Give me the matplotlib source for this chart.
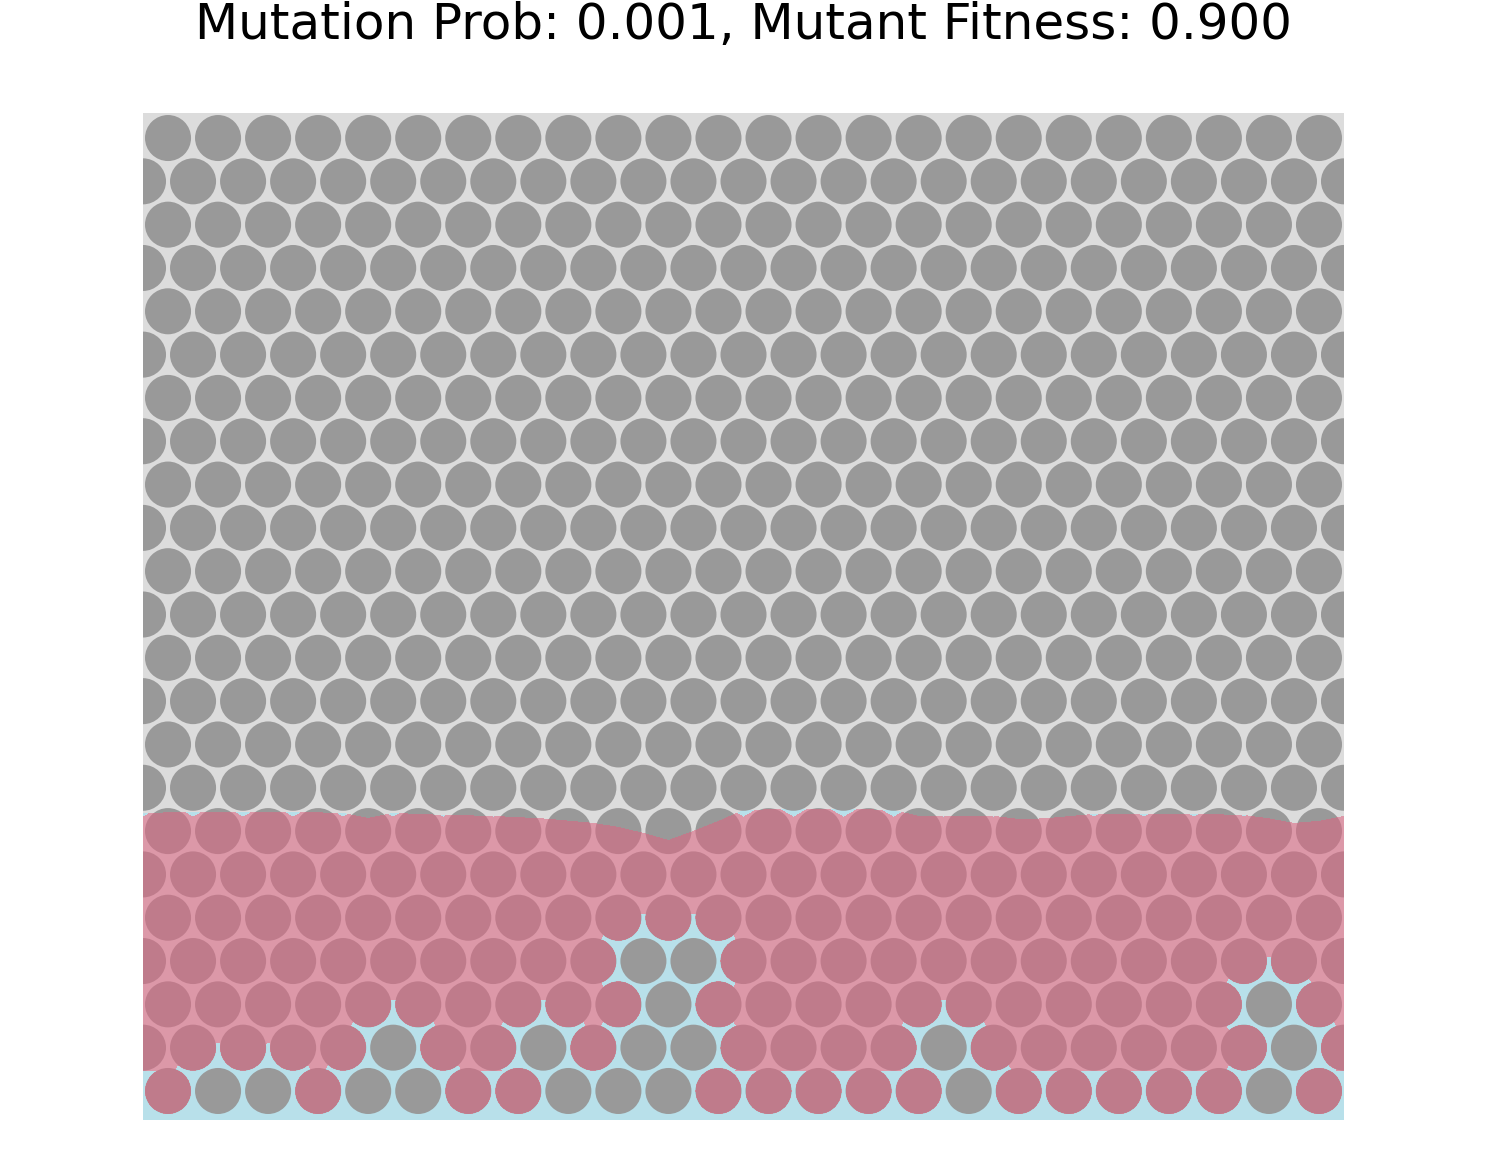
import numpy as np
import matplotlib
matplotlib.use("Agg")
import matplotlib.pyplot as plt
from matplotlib.patches import Circle
from matplotlib.collections import PatchCollection

# ---- DATA ----
TITLE = "Mutation Prob: 0.001, Mutant Fitness: 0.900"
N_ROWS = 23          # hex lattice rows, counted from the bottom
N_COLS = 24          # width of the lattice (cells per even row)

# cell state per row: 1 = mutant, 0 = wild type
# even rows: 24 cells at x = 0.5 .. 23.5, odd rows: 25 cells at x = 0 .. 24
ROW0 = [1, 0, 0, 1, 0, 0, 1, 1, 0, 0, 0, 1, 1, 1, 1, 1, 0, 1, 1, 1, 1, 1, 0, 1]
ROW1 = [1, 1, 1, 1, 1, 0, 1, 1, 0, 1, 0, 0, 1, 1, 1, 1, 0, 1, 1, 1, 1, 1, 1, 0, 1]
ROW2 = [1, 1, 1, 1, 1, 1, 1, 1, 1, 1, 0, 1, 1, 1, 1, 1, 1, 1, 1, 1, 1, 1, 0, 1]
ROW3 = [1, 1, 1, 1, 1, 1, 1, 1, 1, 1, 0, 0, 1, 1, 1, 1, 1, 1, 1, 1, 1, 1, 1, 1, 1]
ROW4 = [1] * 24
ROW5 = [1] * 25
ROW6 = [1] * 24
MUTANT_ROWS = [ROW0, ROW1, ROW2, ROW3, ROW4, ROW5, ROW6]

# upper edge of the mutant (pink) field
FRONT_X = [0, 1, 2, 3, 4, 4.5, 5, 5.5, 6, 7, 8, 9, 9.5, 10, 10.5, 11, 11.5, 12, 13, 14,
           15, 15.5, 16, 17, 17.5, 18, 19, 20, 21, 22, 22.5, 23, 23.5, 24]
FRONT_Y = [5.56, 5.58, 5.58, 5.58, 5.56, 5.46, 5.56, 5.54, 5.52, 5.50, 5.45, 5.36, 5.28,
           5.16, 5.02, 5.20, 5.40, 5.62, 5.64, 5.64, 5.62, 5.50, 5.50, 5.50, 5.44, 5.45,
           5.54, 5.54, 5.54, 5.52, 5.45, 5.36, 5.40, 5.50]

# ---- STYLE ----
R = 0.46
H = np.sqrt(3) / 2
Y_CUT = 0.4          # gaps below this stay blue
D_GAP = 0.95         # gaps this close to a wild-type cell stay blue
BG_GRAY = np.array([220, 220, 220]) / 255
BG_BLUE = np.array([184, 224, 234]) / 255
CELL_GRAY = "#999999"
PINK = np.array([220, 101, 129]) / 255
PINK_ALPHA = 0.57
YLO, YHI = -0.58, 19.553

# state lookup table (rows above the mutant block are wild type)
states = np.zeros((N_ROWS, N_COLS + 1), dtype=int)
for r, row in enumerate(MUTANT_ROWS):
    states[r, :len(row)] = row

# ---- FIELD IMAGES ----
nx, ny = 1201, 1007
xs = (np.arange(nx) + 0.5) / nx * N_COLS
ys = YLO + (np.arange(ny) + 0.5) / ny * (YHI - YLO)
XX, YY = np.meshgrid(xs, ys)

best_d = np.full(XX.shape, np.inf)
best_s = np.zeros(XX.shape, dtype=int)
r0 = np.clip(np.rint(YY / H).astype(int), 0, N_ROWS - 1)
for dr in (-1, 0, 1):
    r = np.clip(r0 + dr, 0, N_ROWS - 1)
    off = np.where(r % 2 == 0, 0.5, 0.0)
    ncol = np.where(r % 2 == 0, N_COLS, N_COLS + 1)
    k = np.clip(np.rint(XX - off).astype(int), 0, ncol - 1)
    d = (XX - (k + off)) ** 2 + (YY - r * H) ** 2
    upd = d < best_d
    best_d[upd] = d[upd]
    best_s[upd] = states[r, k][upd]

# distance to the closest wild-type cell inside the mutant block
gray_d = np.full(XX.shape, np.inf)
for r, row in enumerate(MUTANT_ROWS):
    off = 0.5 if r % 2 == 0 else 0.0
    for k, s in enumerate(row):
        if s == 0:
            gray_d = np.minimum(gray_d, (XX - (k + off)) ** 2 + (YY - r * H) ** 2)

front = np.interp(xs, FRONT_X, FRONT_Y)[None, :]
below = YY < front
in_cell = best_d <= R ** 2
gap_pink = (YY > Y_CUT) & (gray_d > D_GAP ** 2)
pink = below & (best_s == 1) & (in_cell | gap_pink)
blue = below & ~pink

bg = np.empty(XX.shape + (3,))
bg[:] = BG_GRAY
bg[blue] = BG_BLUE

overlay = np.zeros(XX.shape + (4,))
overlay[..., :3] = PINK
overlay[..., 3] = np.where(pink, PINK_ALPHA, 0.0)

# ---- FIGURE ----
fig = plt.figure(figsize=(14.88, 11.71), dpi=100)
ax = fig.add_axes([143 / 1488, 51 / 1171, 1201 / 1488, 1007 / 1171])

ax.imshow(bg, extent=(0, N_COLS, YLO, YHI), origin="lower", aspect="auto",
          interpolation="nearest", zorder=0)

cells = []
for r in range(N_ROWS):
    if r % 2 == 0:
        cx = np.arange(N_COLS) + 0.5
    else:
        cx = np.arange(N_COLS + 1)
    for x in cx:
        cells.append(Circle((x, r * H), R))
ax.add_collection(PatchCollection(cells, facecolor=CELL_GRAY, edgecolor="none",
                                  linewidth=0, zorder=1))

ax.imshow(overlay, extent=(0, N_COLS, YLO, YHI), origin="lower", aspect="auto",
          interpolation="nearest", zorder=2)

ax.set_xlim(0, N_COLS)
ax.set_ylim(YLO, YHI)
ax.axis("off")

fig.text((143 + 1344) / 2 / 1488, 1 - 39 / 1171, TITLE, ha="center", va="baseline",
         fontsize=36)

fig.savefig("out.png", dpi=100)
